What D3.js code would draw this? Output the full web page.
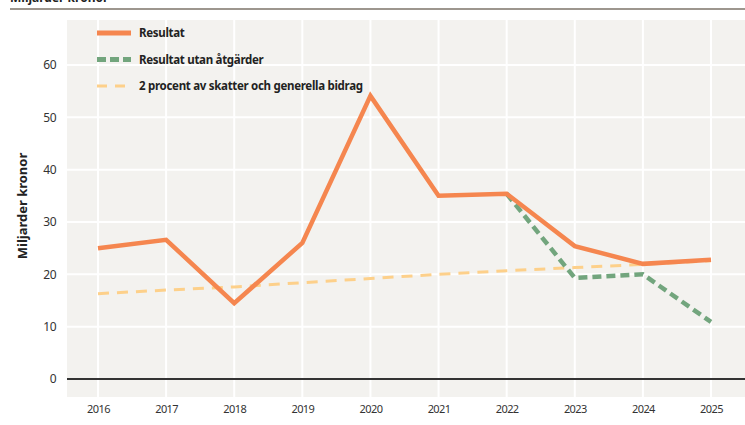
<!DOCTYPE html>
<html>
<head>
<meta charset="utf-8">
<script src="https://cdn.jsdelivr.net/npm/d3@7"></script>
<style>
	body { margin: 0; background: #fff; }
	svg { display: block; font-family: 'Noto Sans', sans-serif; }
</style>
</head>
<body>
<svg id="chart-svg" width="745" height="425"></svg>
<script>
const years = [2016, 2017, 2018, 2019, 2020, 2021, 2022, 2023, 2024, 2025];
const resultat = [25.0, 26.6, 14.5, 26.0, 54.1, 35.0, 35.4, 25.4, 22.0, 22.8];
const utanYears = [2022, 2023, 2024, 2025];
const utanAtgarder = [35.4, 19.3, 20.0, 10.9];
const tvaProcent = [16.3, 17.0, 17.6, 18.4, 19.2, 20.0, 20.7, 21.3, 21.9, 22.6];
const yTicks = [0, 10, 20, 30, 40, 50, 60];
const legendLabels = ['Resultat', 'Resultat utan åtgärder', '2 procent av skatter och generella bidrag'];

const svg = d3.select('#chart-svg');
const plot = { left: 67, right: 745, top: 20, bottom: 397 };

// x: year positions, y: billions
const x = d3.scaleLinear().domain([2016, 2025]).range([98, 711]);
const y = d3.scaleLinear().domain([0, 60]).range([379, 65]);

// top title (cut off in the picture) and rule
svg.append('text').attr('x', 10).attr('y', 2)
	.attr('font-size', 12).attr('font-weight', 'bold').attr('fill', '#222')
	.text('Miljarder kronor');
svg.append('line').attr('x1', 10).attr('x2', 745).attr('y1', 9).attr('y2', 9)
	.attr('stroke', '#9d968e').attr('stroke-width', 2);

// plot background
svg.append('rect').attr('x', plot.left).attr('y', plot.top)
	.attr('width', plot.right - plot.left).attr('height', plot.bottom - plot.top)
	.attr('fill', '#f3f2ef');

// gridlines
svg.append('g').selectAll('line').data(years).enter().append('line')
	.attr('x1', (d) => x(d)).attr('x2', (d) => x(d))
	.attr('y1', plot.top).attr('y2', plot.bottom)
	.attr('stroke', '#fff').attr('stroke-width', 2);
svg.append('g').selectAll('line').data(yTicks.filter((d) => d > 0)).enter().append('line')
	.attr('x1', plot.left).attr('x2', plot.right)
	.attr('y1', (d) => y(d)).attr('y2', (d) => y(d))
	.attr('stroke', '#fff').attr('stroke-width', 2);

// zero line
svg.append('line').attr('x1', plot.left).attr('x2', plot.right)
	.attr('y1', y(0)).attr('y2', y(0))
	.attr('stroke', '#333').attr('stroke-width', 2);

// y axis
const yAxis = d3.axisLeft(y).tickValues(yTicks).tickSize(0).tickPadding(0);
const yG = svg.append('g').attr('transform', 'translate(56,0)').call(yAxis);
yG.select('.domain').remove();
yG.selectAll('text').attr('font-size', 12).attr('fill', '#333')
	.attr('font-family', "'Noto Sans', sans-serif").attr('letter-spacing', '-0.5');

// x axis
const xAxis = d3.axisBottom(x).tickValues(years).tickFormat(d3.format('d')).tickSize(0).tickPadding(0);
const xG = svg.append('g').attr('transform', 'translate(0,405)').call(xAxis);
xG.select('.domain').remove();
xG.selectAll('text').attr('font-size', 11).attr('fill', '#333')
	.attr('font-family', "'Noto Sans', sans-serif").attr('letter-spacing', '-0.6');

// y label
svg.append('text').attr('transform', 'translate(27,206) rotate(-90)')
	.attr('text-anchor', 'middle').attr('font-size', 13).attr('font-weight', 'bold').attr('fill', '#222')
	.text('Miljarder kronor');

const line = d3.line().x((d) => x(d[0])).y((d) => y(d[1]));

// series
svg.append('path').datum(years.map((yr, i) => [yr, tvaProcent[i]]))
	.attr('d', line).attr('fill', 'none')
	.attr('stroke', '#fdd08a').attr('stroke-width', 3).attr('stroke-dasharray', '11,8');
svg.append('path').datum(utanYears.map((yr, i) => [yr, utanAtgarder[i]]))
	.attr('d', line).attr('fill', 'none')
	.attr('stroke', '#72a57d').attr('stroke-width', 4.5).attr('stroke-dasharray', '9,5');
svg.append('path').datum(years.map((yr, i) => [yr, resultat[i]]))
	.attr('d', line).attr('fill', 'none')
	.attr('stroke', '#f5864f').attr('stroke-width', 4.5).attr('stroke-linejoin', 'miter');

// legend
const legendStyles = [
	{ color: '#f5864f', width: 5, dash: null },
	{ color: '#72a57d', width: 5, dash: '9,4' },
	{ color: '#fdd08a', width: 3, dash: '10,8' }
];
const legendG = svg.append('g').selectAll('g').data(legendLabels).enter().append('g')
	.attr('transform', (d, i) => 'translate(97,' + (33 + i * 26.5) + ')');
legendG.append('line').attr('x1', 0).attr('x2', 34).attr('y1', 0).attr('y2', 0)
	.attr('stroke', (d, i) => legendStyles[i].color)
	.attr('stroke-width', (d, i) => legendStyles[i].width)
	.attr('stroke-dasharray', (d, i) => legendStyles[i].dash);
legendG.append('text').attr('x', 42).attr('y', 4)
	.attr('font-size', 11.5).attr('font-weight', 'bold').attr('fill', '#222')
	.attr('letter-spacing', '-0.3')
	.text((d) => d);
</script>
</body>
</html>
